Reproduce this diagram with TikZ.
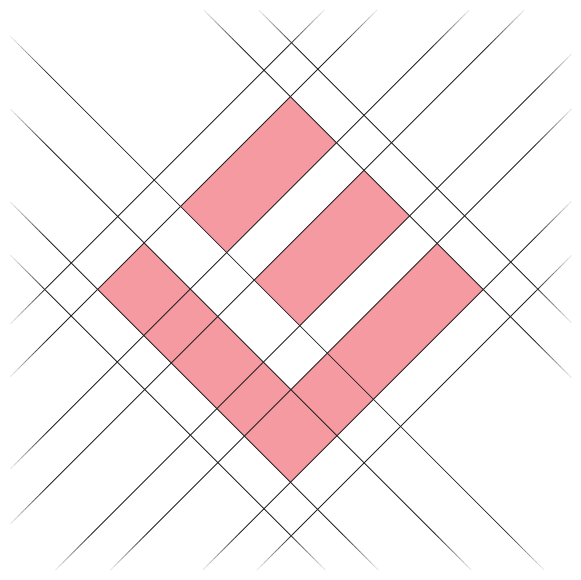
\documentclass[tikz,border=0pt]{standalone}
\usetikzlibrary{calc}
\definecolor{linecol}{RGB}{35,35,35}
\definecolor{fillred}{RGB}{245,154,160}
\tikzset{
  gridline/.style={line width=0.8pt, line cap=butt},
  redfill/.style={fill=fillred, draw=none}
}
\newcommand\fadeline[2]{%
  \foreach \i in {0,...,9}{%
    \pgfmathsetmacro\pc{int(12+8.8*\i)}%
    \draw[gridline, draw=linecol!\pc!white] ($(#1)!\i*5pt!(#2)$) -- ($(#1)!\i*5pt+5pt!(#2)$);
    \draw[gridline, draw=linecol!\pc!white] ($(#2)!\i*5pt!(#1)$) -- ($(#2)!\i*5pt+5pt!(#1)$);
  }%
  \draw[gridline, draw=linecol] ($(#1)!50pt!(#2)$) -- ($(#2)!50pt!(#1)$);
}
\begin{document}
\begin{tikzpicture}[x=1pt,y=-1pt]
\useasboundingbox (0,0) rectangle (580,580);
% red regions
\fill[redfill] (290.4,96.6) -- (336.5,142.7) -- (226.65,252.55) -- (180.55,206.45) -- cycle;
\fill[redfill] (364,170.2) -- (409.65,215.85) -- (299.8,325.7) -- (254.15,280.05) -- cycle;
\fill[redfill] (144.1,242.9) -- (97.65,289.35) -- (290.55,482.25) -- (483.3,289.5) -- (437.15,243.35) -- (290.85,389.65) -- cycle;
% line end points (top-left to bottom-right)
\coordinate (qa1) at (258.8,10);   \coordinate (qa2) at (571.5,322.7);
\coordinate (qb1) at (203.8,10);   \coordinate (qb2) at (571.5,377.7);
\coordinate (qc1) at (10.5,36.4);  \coordinate (qc2) at (544.1,570);
\coordinate (qd1) at (10.5,109.3); \coordinate (qd2) at (471.2,570);
\coordinate (qe1) at (10.5,202.2); \coordinate (qe2) at (378.3,570);
\coordinate (qf1) at (10.5,255.2); \coordinate (qf2) at (325.3,570);
% line end points (bottom-left to top-right)
\coordinate (pa1) at (10.5,323.8); \coordinate (pa2) at (324.3,10);
\coordinate (pb1) at (10.5,376.5); \coordinate (pb2) at (377,10);
\coordinate (pc1) at (10.5,468.7); \coordinate (pc2) at (469.2,10);
\coordinate (pd1) at (10.5,523.7); \coordinate (pd2) at (524.2,10);
\coordinate (pe1) at (55.5,570);   \coordinate (pe2) at (571.5,54);
\coordinate (pf1) at (110.5,570);  \coordinate (pf2) at (571.5,109);
\coordinate (pg1) at (202.8,570);  \coordinate (pg2) at (571.5,201.3);
\coordinate (ph1) at (257,570);    \coordinate (ph2) at (571.5,255.5);
\foreach \n in {qa,qb,qc,qd,qe,qf,pa,pb,pc,pd,pe,pf,pg,ph}{\fadeline{\n1}{\n2}}
\end{tikzpicture}
\end{document}
